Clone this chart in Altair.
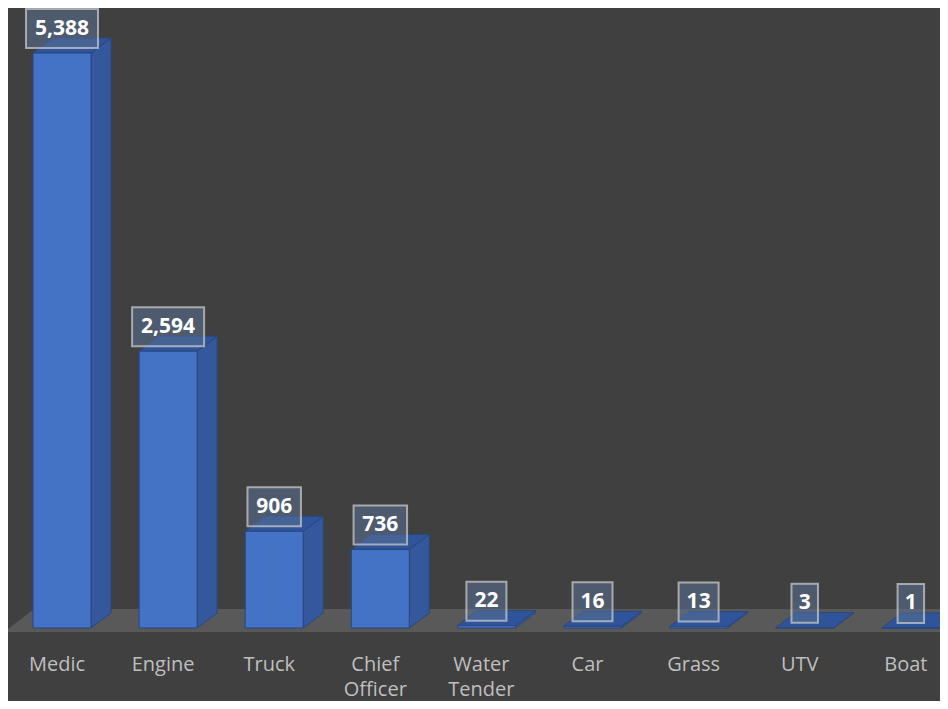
import altair as alt
import pandas as pd

categories = ["Medic", "Engine", "Truck", "Chief\nOfficer", "Water\nTender", "Car", "Grass", "UTV", "Boat"]
values = [5388, 2594, 906, 736, 22, 16, 13, 3, 1]
value_labels = ["5,388", "2,594", "906", "736", "22", "16", "13", "3", "1"]

# pixel geometry helpers (px per data unit)
PX_X = 106.1
PX_Y = 0.10672
HW = 29 / PX_X          # half front-face width
DX = 20 / PX_X          # 3D depth, horizontal
DY = 15 / PX_Y          # 3D depth, vertical

xs = alt.Scale(domain=[-0.509, 8.275], nice=False, zero=False)
ys = alt.Scale(domain=[-37.5, 5810], nice=False, zero=False)

idx = list(range(len(categories)))
front = pd.DataFrame({"cat": categories, "i": idx, "v": values,
                      "x": [i - HW for i in idx], "x2": [i + HW for i in idx]})

side_rows = []
top_rows = []
for i, c, v in zip(idx, categories, values):
    side_rows.append({"cat": c, "x": i + HW, "y": 0, "y2": v})
    side_rows.append({"cat": c, "x": i + HW + DX, "y": DY, "y2": v + DY})
    top_rows.append({"cat": c, "y": v, "x": i - HW, "x2": i + HW})
    top_rows.append({"cat": c, "y": v + DY, "x": i - HW + DX, "x2": i + HW + DX})
side = pd.DataFrame(side_rows)
top = pd.DataFrame(top_rows)

floor = pd.DataFrame({"y": [-37.5, 178], "x": [-0.547, -0.264], "x2": [9.5, 9.5]})

boxes = pd.DataFrame({
    "i": idx, "v": values, "lab": value_labels,
})
bw = [(13 + 13.5 * sum(ch.isdigit() for ch in s) + 5 * s.count(",")) / 2 / PX_X for s in value_labels]
boxes["bx"] = [i - w for i, w in zip(idx, bw)]
boxes["bx2"] = [i + w for i, w in zip(idx, bw)]

cats = pd.DataFrame({"i": [i - 5 / PX_X for i in idx], "cat": categories, "y": [0] * len(idx)})

floor_l = alt.Chart(floor).mark_area(orient="horizontal", color="#595959").encode(
    y=alt.Y("y:Q", scale=ys, axis=None),
    x=alt.X("x:Q", scale=xs, axis=None), x2="x2:Q")

side_l = alt.Chart(side).mark_area(color="#34589B", stroke="#2A4780", strokeWidth=1).encode(
    x=alt.X("x:Q", scale=xs, axis=None),
    y=alt.Y("y:Q", scale=ys, axis=None), y2="y2:Q", detail="cat:N")

top_l = alt.Chart(top).mark_area(orient="horizontal", color="#2F5499", stroke="#2A4780", strokeWidth=1).encode(
    y=alt.Y("y:Q", scale=ys, axis=None),
    x=alt.X("x:Q", scale=xs, axis=None), x2="x2:Q", detail="cat:N")

front_l = alt.Chart(front).mark_rect(color="#4472C4", stroke="#2A4780", strokeWidth=1).encode(
    x=alt.X("x:Q", scale=xs, axis=None), x2="x2:Q",
    y=alt.Y("v:Q", scale=ys, axis=None), y2=alt.datum(0))

box_l = alt.Chart(boxes).mark_rect(fill="#5A6F93", fillOpacity=0.55, stroke="#C8C8C8",
                                   strokeOpacity=0.75, strokeWidth=2, yOffset=-5, y2Offset=-44).encode(
    x=alt.X("bx:Q", scale=xs, axis=None), x2="bx2:Q",
    y=alt.Y("v:Q", scale=ys, axis=None), y2="v:Q")

text_l = alt.Chart(boxes).mark_text(font="Open Sans", fontSize=21, fontWeight="bold", color="white",
                                    baseline="middle", align="center", dy=-24.5).encode(
    x=alt.X("i:Q", scale=xs, axis=None),
    y=alt.Y("v:Q", scale=ys, axis=None), text="lab:N")

cat_l = alt.Chart(cats).mark_text(font="Open Sans", fontSize=20, color="#BFBFBF", lineBreak="\n",
                                  baseline="alphabetic", align="center", dy=43, lineHeight=25).encode(
    x=alt.X("i:Q", scale=xs, axis=None),
    y=alt.Y("y:Q", scale=ys, axis=None), text="cat:N")

chart = alt.layer(floor_l, side_l, top_l, front_l, box_l, text_l, cat_l).properties(
    width=932, height=624, background="#404040",
    autosize=alt.AutoSizeParams(type="none"),
    padding={"left": 0, "top": 0, "right": 0, "bottom": 69},
).configure_view(stroke=None)

chart.save("out.html", embed_options={"renderer": "svg", "actions": False})
